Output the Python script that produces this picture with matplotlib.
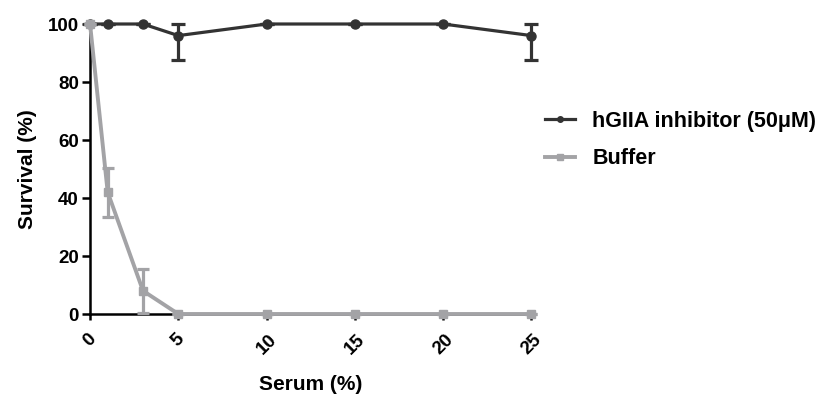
import numpy as np
import matplotlib.pyplot as plt
from matplotlib.lines import Line2D

plt.rcParams['font.family'] = ['Liberation Sans', 'DejaVu Sans']
plt.rcParams['font.weight'] = 'bold'

serum = [0, 1, 3, 5, 10, 15, 20, 25]
inhib = [100, 100, 100, 96, 100, 100, 100, 96]
inhib_lo = [0, 0, 0, 8.5, 0, 0, 0, 8.5]
inhib_hi = [0, 0, 0, 4, 0, 0, 0, 4]
buffer = [100, 42, 8, 0, 0, 0, 0, 0]
buffer_err = [0, 8.5, 7.5, 0, 0, 0, 0, 0]
labels = ['hGIIA inhibitor (50\u03bcM)', 'Buffer']

dark = '#333333'
grey = '#a3a3a6'

fig = plt.figure(figsize=(8.36, 4.11), dpi=100)
ax = fig.add_axes([0.1077, 0.236, 0.528, 0.7056])

ax.errorbar(serum, inhib, yerr=[inhib_lo, inhib_hi], color=dark, lw=2.3,
            marker='o', ms=6.5, capsize=5, capthick=2.3, elinewidth=2.3,
            clip_on=False, zorder=3)
ax.errorbar(serum, buffer, yerr=buffer_err, color=grey, lw=2.8,
            marker='s', ms=6, capsize=4, capthick=2.3, elinewidth=2.3,
            clip_on=False, zorder=4)

ax.set_xlim(0, 25)
ax.set_ylim(0, 100)
ax.set_xticks([0, 5, 10, 15, 20, 25])
ax.set_yticks([0, 20, 40, 60, 80, 100])
for s in ['top', 'right']:
    ax.spines[s].set_visible(False)
for s in ['left', 'bottom']:
    ax.spines[s].set_linewidth(1.8)
    ax.spines[s].set_color('black')
ax.tick_params(axis='y', length=6, width=1.8, labelsize=13.5, pad=2)
ax.tick_params(axis='x', length=4, width=1.8, labelsize=13.5, pad=8)
for lab in ax.get_xticklabels():
    lab.set_rotation(45)
    lab.set_fontweight('bold')
for lab in ax.get_yticklabels():
    lab.set_fontweight('bold')

ax.set_xlabel('Serum (%)', fontsize=15, fontweight='bold', labelpad=13)
ax.set_ylabel('Survival (%)', fontsize=15, fontweight='bold', labelpad=8)

handles = [Line2D([], [], color=dark, lw=2.3, marker='o', ms=4),
           Line2D([], [], color=grey, lw=2.8, marker='s', ms=4)]
ax.legend(handles, labels, loc='upper left', bbox_to_anchor=(1.031, 0.70),
          frameon=False, borderpad=0, borderaxespad=0,
          handlelength=1.4, labelspacing=0.75, handletextpad=0.8,
          prop={'weight': 'bold', 'size': 15.5})

fig.savefig('out.png', dpi=100)
